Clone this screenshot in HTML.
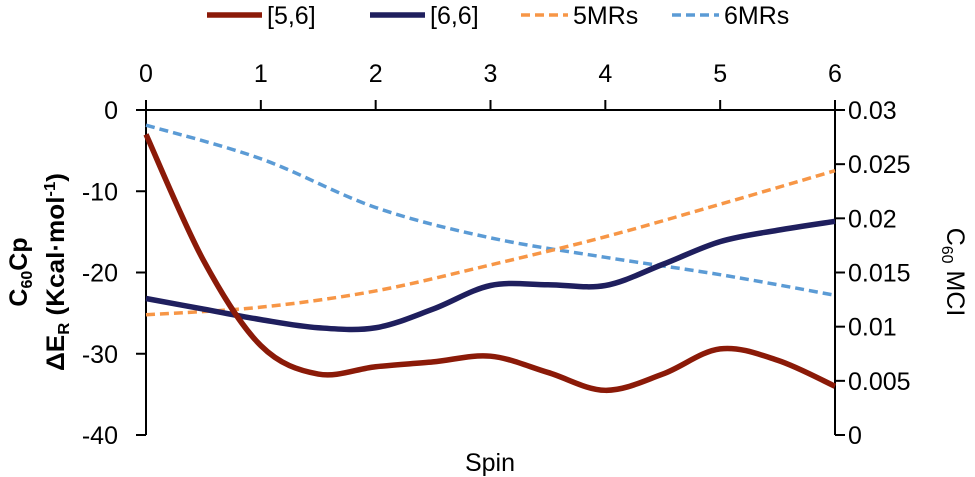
<!DOCTYPE html>
<html><head><meta charset="utf-8"><style>
body{margin:0;background:#fff}
svg{display:block;font-family:"Liberation Sans",sans-serif}
</style></head><body>
<svg id="c" width="975" height="477"></svg>
<script>
const xsHalf=[0,0.5,1,1.5,2,2.5,3,3.5,4,4.5,5,5.5,6];
const s56=[-3,-18.5,-29,-32.5,-31.6,-31,-30.3,-32.3,-34.5,-32.5,-29.4,-30.8,-34];
const s66=[-23.2,-24.5,-25.8,-26.8,-26.8,-24.5,-21.6,-21.5,-21.6,-19,-16.2,-14.8,-13.7];
const xsInt=[0,1,2,3,4,5,6];
const m5=[0.0111,0.0118,0.0133,0.0157,0.0183,0.0213,0.0244];
const m6=[0.0286,0.0255,0.021,0.0182,0.0164,0.0148,0.0129];
const xTicks=[0,1,2,3,4,5,6];
const yLeftTicks=[0,-10,-20,-30,-40];
const yRightTicks=[0,0.005,0.01,0.015,0.02,0.025,0.03];
const yRightLabels=["0","0.005","0.01","0.015","0.02","0.025","0.03"];

const NS="http://www.w3.org/2000/svg",svg=document.getElementById('c');
const X0=146,X1=835,Y0=110,Y1=435;
const xs=v=>X0+(X1-X0)*v/6;
const yl=v=>Y0+(Y1-Y0)*(-v)/40;
const yr=v=>Y1-(Y1-Y0)*v/0.03;
function el(t,a,p){const e=document.createElementNS(NS,t);for(const k in a)e.setAttribute(k,a[k]);(p||svg).appendChild(e);return e;}
function line(x1,y1,x2,y2){return el('line',{x1,y1,x2,y2,stroke:'#000','stroke-width':2});}
function txt(x,y,s,anchor,size){const t=el('text',{x,y,'text-anchor':anchor||'middle','font-size':size||25,fill:'#000'});t.textContent=s;return t;}
function spline(pts){let d=`M${pts[0][0]},${pts[0][1]}`;for(let i=0;i<pts.length-1;i++){const p0=pts[i-1]||pts[i],p1=pts[i],p2=pts[i+1],p3=pts[i+2]||p2;
d+=` C${p1[0]+(p2[0]-p0[0])/6},${p1[1]+(p2[1]-p0[1])/6} ${p2[0]-(p3[0]-p1[0])/6},${p2[1]-(p3[1]-p1[1])/6} ${p2[0]},${p2[1]}`;}return d;}

let a=line(X0,Y0,X1,Y0);
a=line(X0,Y0-10,X0,Y1);
a=line(X1,Y0-10,X1,Y1);
xTicks.forEach(v=>{const l=line(xs(v),Y0,xs(v),Y0-10);
const t=txt(xs(v),82,String(v));});
yLeftTicks.forEach(v=>{const l=line(X0-10,yl(v),X0,yl(v));
const t=txt(118,yl(v)+9,String(v),'end');});
yRightTicks.forEach((v,i)=>{const l=line(X1,yr(v),X1+10,yr(v));
const t=txt(848,yr(v)+9,yRightLabels[i],'start');});

function series(xv,yv,fy,color,w,dash,name){const p=el('path',{d:spline(xv.map((x,i)=>[xs(x),fy(yv[i])])),fill:'none',stroke:color,'stroke-width':w});
if(dash)p.setAttribute('stroke-dasharray',dash);

}
series(xsInt,m6,yr,'#5b9bd5',3.5,'9,5','series-6mrs');
series(xsInt,m5,yr,'#f79646',3.5,'9,5','series-5mrs');
series(xsHalf,s66,yl,'#1f1f5e',5.5,null,'series-6-6');
series(xsHalf,s56,yl,'#8b1a08',5.5,null,'series-5-6');

const leg=[[207,262,'#8b1a08',null,'[5,6]',5.5],[370,425,'#1f1f5e',null,'[6,6]',5.5],[521,568,'#f79646','9,5','5MRs',3.5],[672,719,'#5b9bd5','9,5','6MRs',3.5]];
leg.forEach(l=>{const g=el('g',{});
const ln=el('line',{x1:l[0],y1:15,x2:l[1],y2:15,stroke:l[2],'stroke-width':l[5]},g);if(l[3])ln.setAttribute('stroke-dasharray',l[3]);
const t=el('text',{x:l[1]+5,y:24,'font-size':25},g);t.textContent=l[4];});

let t=txt(490,471,'Spin');
let g=el('g',{transform:'translate(0,272) rotate(-90)'});
g.innerHTML='<text x="0" y="27" text-anchor="middle" font-size="25" font-weight="bold">C<tspan font-size="16" dy="5">60</tspan><tspan dy="-5">Cp</tspan></text><text x="0" y="64" text-anchor="middle" font-size="25" font-weight="bold" textLength="198" lengthAdjust="spacingAndGlyphs">ΔE<tspan font-size="16" dy="5">R</tspan><tspan dy="-5"> (Kcal·mol</tspan><tspan font-size="16" dy="-9">-1</tspan><tspan dy="9">)</tspan></text>';
g=el('g',{transform:'translate(947,272) rotate(90)'});
g.innerHTML='<text x="0" y="0" text-anchor="middle" font-size="25">C<tspan font-size="16" dy="5">60</tspan><tspan dy="-5"> MCI</tspan></text>';
</script>
</body></html>
